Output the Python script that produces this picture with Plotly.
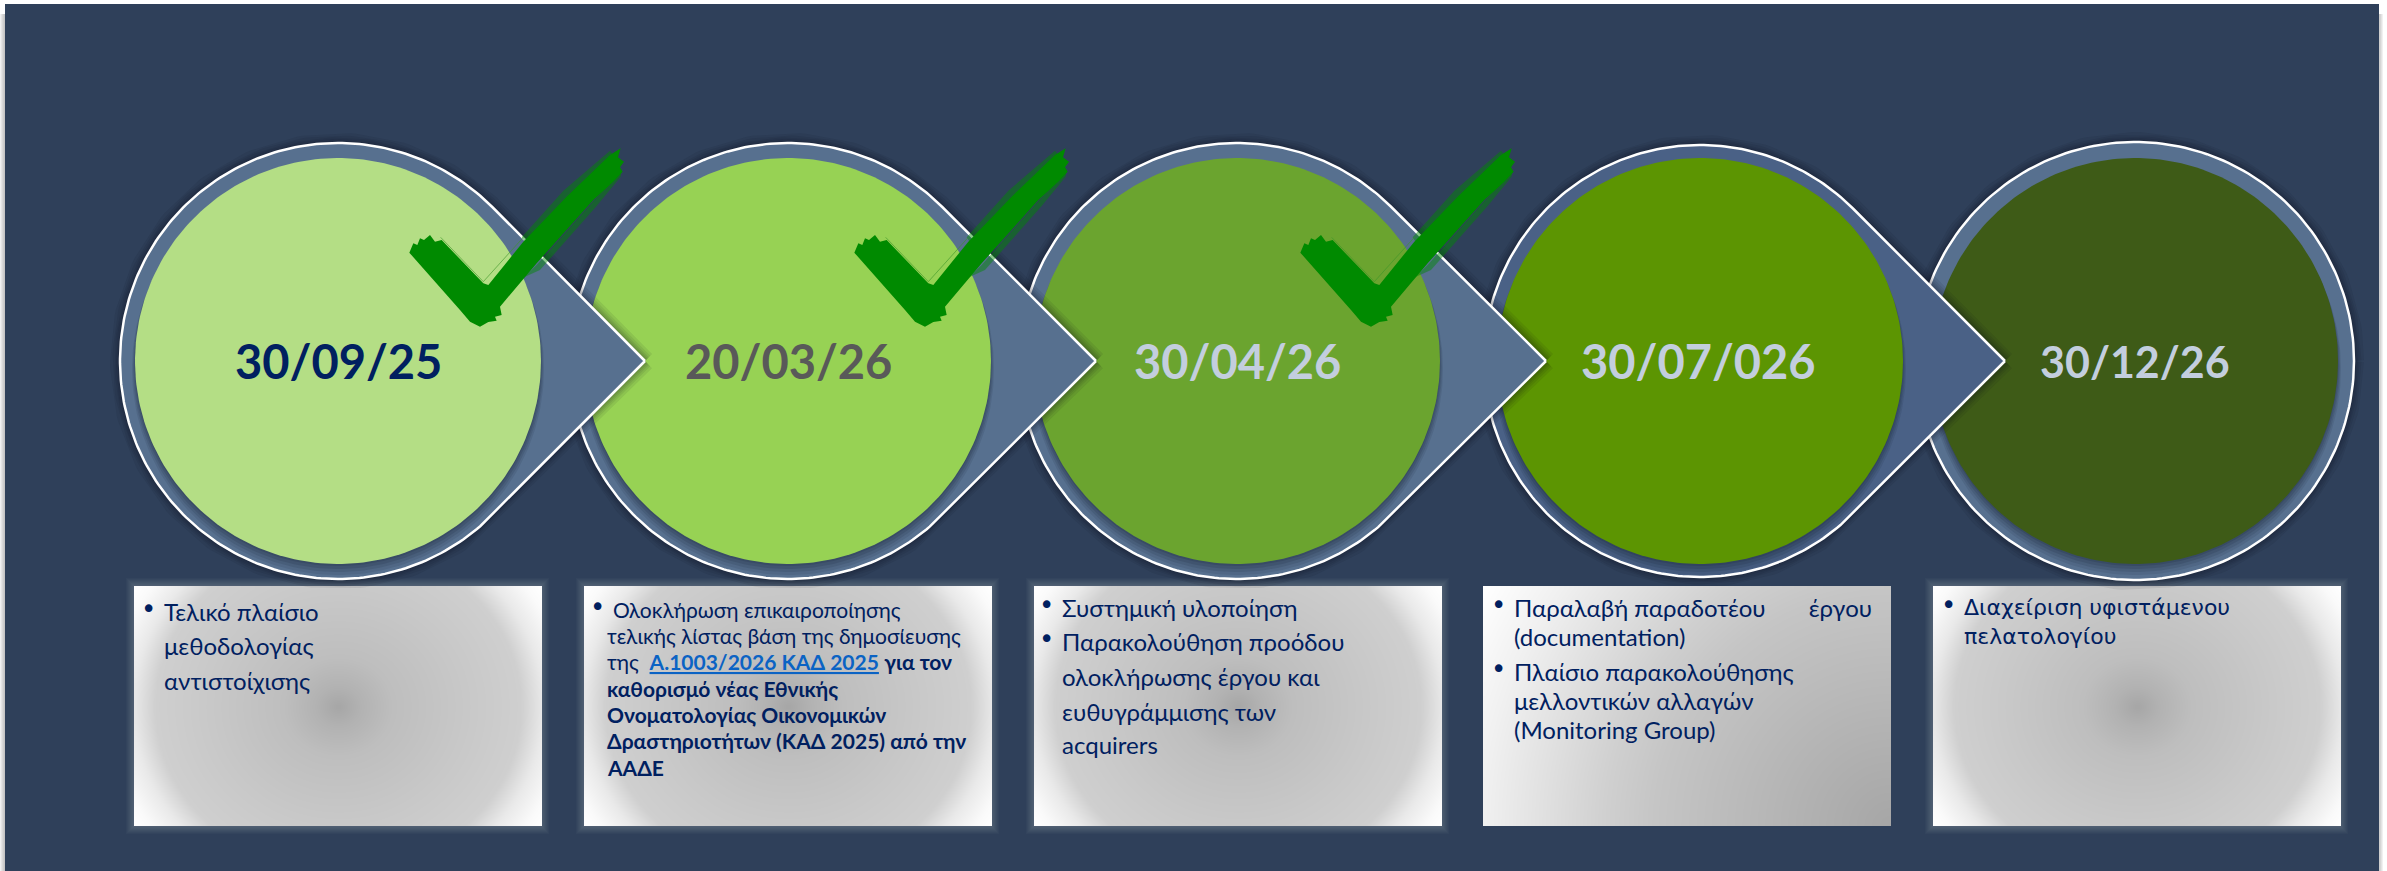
import numpy as np
import plotly.graph_objects as go

# --- CONTENT ---
DATES = ["30/09/25", "20/03/26", "30/04/26", "30/07/026", "30/12/26"]
LINK_TEXT = "Α.1003/2026 ΚΑΔ 2025"
BOX_1 = ["Τελικό πλαίσιο", "μεθοδολογίας", "αντιστοίχισης"]
BOX_2 = ["Ολοκλήρωση επικαιροποίησης",
         "τελικής λίστας βάση της δημοσίευσης",
         "της  <span style='color:#0b63c4'><u><b>" + LINK_TEXT + "</b></u></span> <b>για τον</b>",
         "<b>καθορισμό νέας Εθνικής</b>",
         "<b>Ονοματολογίας Οικονομικών</b>",
         "<b>Δραστηριοτήτων (ΚΑΔ 2025) από την</b>",
         "<b>ΑΑΔΕ</b>"]
BOX_3 = ["Συστημική υλοποίηση", "Παρακολούθηση προόδου", "ολοκλήρωσης έργου και",
         "ευθυγράμμισης των", "acquirers"]
BOX_4 = ["Παραλαβή παραδοτέου\u00a0\u00a0\u00a0\u00a0\u00a0\u00a0\u00a0έργου", "(documentation)",
         "Πλαίσιο παρακολούθησης", "μελλοντικών αλλαγών", "(Monitoring Group)"]
BOX_5 = ["Διαχείριση υφιστάμενου", "πελατολογίου"]

# --- LAYOUT SETTINGS ---
W, H = 2387, 871
PANEL = "#2f405a"
CY = 361
CENTERS = [338, 788, 1237, 1700, 2135]
TIPS = [645, 1096, 1546, 2005, None]
OUTER_R = [218, 218, 218, 216, 219]
INNER_R = 203
FILLS = ["#b4de85", "#97d254", "#6ba42f", "#5c9502", "#3e5b17"]
OUTER_FILLS = ["#57708f", "#57708f", "#57708f", "#4a6186", "#57708f"]
DATE_COLORS = ["#002060", "#595959", "#c3cede", "#c3cede", "#c3cede"]
DATE_SIZES = [47, 47, 47, 47, 43]
CHECK_SHIFTS = [0, 445, 891]

BOX_X0 = [134, 584, 1034, 1483, 1933]
BOX_W = 407
BOX_Y0, BOX_Y1 = 586, 826

TEXT_LEFT = [162, 605, 1060, 1512, 1962]
BOX_LINES = [BOX_1, BOX_2, BOX_3, BOX_4, BOX_5]
LINE_Y = [[611, 645, 680],
          [609, 635, 661, 688, 714, 740, 767],
          [607, 641, 676, 711, 744],
          [607, 636, 671, 700, 729],
          [607, 636]]
BULLET_X = [148, 597, 1046, 1498, 1948]
BULLET_LINES = [[0], [0], [0, 1], [0, 2], [0]]
TEXT_FONT = ["Lato", "Lato", "Lato", "Lato", "DejaVu Sans"]
TEXT_SIZE = [24, 21, 24, 24, 22]

# brush tick outline
TICK_X = [88, 100, 112, 120, 132, 150, 165, 185, 310, 325, 430, 560, 690, 722, 714, 732, 720, 728, 700, 640, 470, 360, 365, 345, 350, 325, 300, 270, 240]
TICK_Y = [368, 340, 345, 325, 330, 315, 335, 330, 460, 465, 335, 200, 75, 55, 82, 95, 112, 125, 155, 210, 400, 530, 555, 560, 572, 576, 590, 575, 540]
FRINGE_TOP_X = [425, 550, 690, 705, 565, 440]
FRINGE_TOP_Y = [322, 182, 62, 80, 210, 345]
FRINGE_LOW_X = [470, 640, 725, 722, 650, 480, 432]
FRINGE_LOW_Y = [405, 215, 118, 140, 228, 420, 442]
CORNER_LINE_X = [182, 310, 430]
CORNER_LINE_Y = [322, 455, 322]

# grey levels of the radial fills
RAD_T = [0, 0.12, 0.3, 0.7, 1.0, 1.12, 1.25, 1.33, 1.6]
RAD_G = [166, 178, 190, 200, 207, 233, 250, 255, 255]
CORNER_T = [0, 0.5, 0.6, 0.86, 1.0]
CORNER_G = [166, 197, 207, 240, 255]


def outline(cx, r, tip):
    if tip is None:
        a = np.linspace(0, 2 * np.pi, 240)
        return cx + r * np.cos(a), CY + r * np.sin(a)
    t = np.arccos(r / (tip - cx))
    a = np.linspace(t, 2 * np.pi - t, 240)
    return np.r_[tip, cx + r * np.cos(a), tip], np.r_[CY, CY + r * np.sin(a), CY]


def box_gradient(x0, corner=False):
    xs = np.arange(x0 + 1.5, x0 + BOX_W, 3.0)
    ys = np.arange(BOX_Y0 + 1.5, BOX_Y1, 3.0)
    gx, gy = np.meshgrid(xs, ys)
    if corner:
        t = np.hypot(x0 + BOX_W - gx, BOX_Y1 - gy) / np.hypot(BOX_W, BOX_Y1 - BOX_Y0)
        return xs, ys, np.interp(t, CORNER_T, CORNER_G)
    t = np.hypot((gx - x0 - BOX_W / 2) / 183, (gy - 706) / 165)
    return xs, ys, np.interp(t, RAD_T, RAD_G)


def tick_trace(zx, zy, shift, color):
    x = 380 + np.array(zx + zx[:1]) / 3 + shift
    y = 130 + np.array(zy + zy[:1]) / 3
    return go.Scatter(x=x, y=y, mode="lines", fill="toself", fillcolor=color, line_width=0, hoverinfo="skip")


fig = go.Figure()

# --- PANEL AND GLOWS ---
shapes = []
for i in range(5):
    shapes.append(dict(type="rect", x0=i, x1=5, y0=14, y1=H, fillcolor="rgba(120,120,120,0.10)", line_width=0, layer="below"))
    shapes.append(dict(type="rect", x0=2379, x1=2383 - i * 0.7, y0=14, y1=H, fillcolor="rgba(120,120,120,0.08)", line_width=0, layer="below"))
shapes.append(dict(type="rect", x0=5, x1=2379, y0=4, y1=H, fillcolor=PANEL, line_width=0, layer="below"))
for i, x0 in enumerate(BOX_X0):
    if i == 3:
        continue
    for g in [8, 7, 6, 5, 4, 3, 2, 1]:
        shapes.append(dict(type="rect", x0=x0 - g, x1=x0 + BOX_W + g, y0=BOX_Y0 - g, y1=BOX_Y1 + g,
                           fillcolor="rgba(255,255,255,0.022)", line_width=0, layer="below"))

# --- TEXT BOXES ---
for i, x0 in enumerate(BOX_X0):
    xs, ys, z = box_gradient(x0, corner=(i == 3))
    fig.add_trace(go.Heatmap(x=xs, y=ys, z=z, zmin=0, zmax=255, zsmooth="best", showscale=False, hoverinfo="skip",
                             colorscale=[[0, "#000000"], [1, "#ffffff"]]))

# --- CIRCLES, last one first so each arrow sits over the next circle ---
for i in range(4, -1, -1):
    ox, oy = outline(CENTERS[i], OUTER_R[i], TIPS[i])
    for w in [20, 15, 11, 8, 5]:
        fig.add_trace(go.Scatter(x=ox, y=oy, mode="lines", hoverinfo="skip",
                                 line=dict(color="rgba(15,20,30,0.075)", width=w)))
    fig.add_trace(go.Scatter(x=ox, y=oy, mode="lines", fill="toself", fillcolor=OUTER_FILLS[i], hoverinfo="skip",
                             line=dict(color="#ffffff", width=2.5)))
    a = np.linspace(0, 2 * np.pi, 240)
    for dr, dy, op in [(3, 8, 0.10), (2, 6, 0.12), (1, 4, 0.14), (0, 2, 0.16)]:
        fig.add_trace(go.Scatter(x=CENTERS[i] + (INNER_R + dr) * np.cos(a), y=CY + dy + (INNER_R + dr) * np.sin(a),
                                 mode="lines", fill="toself", fillcolor=f"rgba(20,30,50,{op})", line_width=0, hoverinfo="skip"))
    fig.add_trace(go.Scatter(x=CENTERS[i] + INNER_R * np.cos(a), y=CY + INNER_R * np.sin(a), mode="lines",
                             fill="toself", fillcolor=FILLS[i], line_width=0, hoverinfo="skip"))

# --- TICKS ---
for s in CHECK_SHIFTS:
    fig.add_trace(tick_trace(FRINGE_TOP_X, FRINGE_TOP_Y, s, "rgba(0,138,0,0.45)"))
    fig.add_trace(tick_trace(FRINGE_LOW_X, FRINGE_LOW_Y, s, "rgba(0,138,0,0.45)"))
    fig.add_trace(tick_trace(TICK_X, TICK_Y, s, "#008a00"))
    fig.add_trace(go.Scatter(x=380 + np.array(CORNER_LINE_X) / 3 + s, y=130 + np.array(CORNER_LINE_Y) / 3, mode="lines",
                             line=dict(color="rgba(60,150,40,0.6)", width=1), hoverinfo="skip"))

# --- TEXTS ---
for i, d in enumerate(DATES):
    fig.add_annotation(x=CENTERS[i] - (2 if i == 3 else 0), y=CY, text=f"<b>{d}</b>", showarrow=False, xanchor="center", yanchor="middle",
                       font=dict(family="Lato", size=DATE_SIZES[i], color=DATE_COLORS[i]))

for i, lines in enumerate(BOX_LINES):
    for j, line in enumerate(lines):
        left = 611 if (i == 1 and j == 0) else TEXT_LEFT[i]
        fig.add_annotation(x=left, y=LINE_Y[i][j], text=line, showarrow=False, xanchor="left", yanchor="middle",
                           font=dict(family=TEXT_FONT[i], size=TEXT_SIZE[i], color="#002060"))
    for j in BULLET_LINES[i]:
        fig.add_annotation(x=BULLET_X[i], y=LINE_Y[i][j] - 2, text="•", showarrow=False, xanchor="center", yanchor="middle",
                           font=dict(family="DejaVu Sans", size=26, color="#002060"))

fig.update_xaxes(visible=False, range=[0, W], fixedrange=True)
fig.update_yaxes(visible=False, range=[H, 0], fixedrange=True)
fig.update_layout(width=W, height=H, margin=dict(l=0, r=0, t=0, b=0), showlegend=False,
                  paper_bgcolor="#ffffff", plot_bgcolor="#ffffff", shapes=shapes)

fig.write_html("out.html", config={"displayModeBar": False},
               post_script="document.body.style.margin='0';document.body.style.overflow='hidden';")
